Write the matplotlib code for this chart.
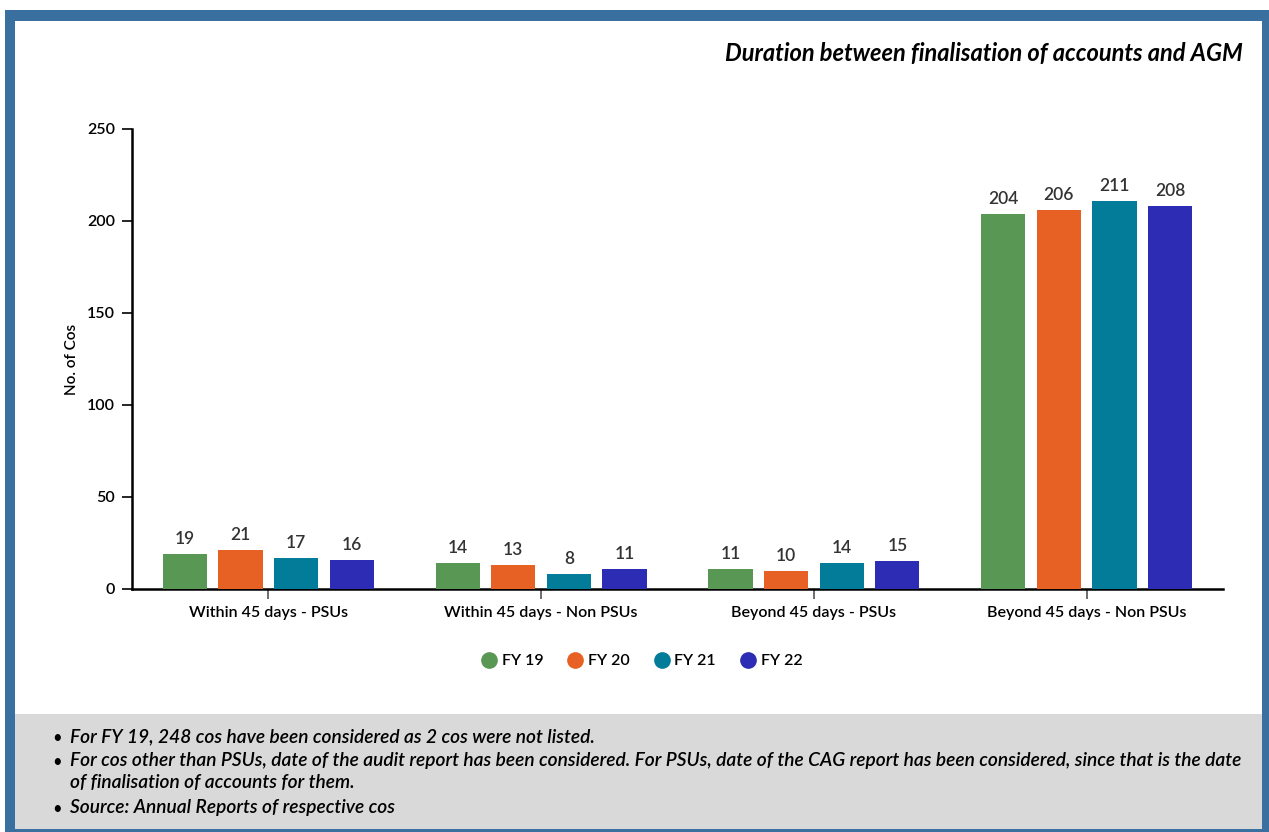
import numpy as np
import matplotlib.pyplot as plt
from matplotlib.patches import Rectangle
from matplotlib.lines import Line2D

plt.rcParams['font.family'] = ['Lato', 'DejaVu Sans']

categories = ['Within 45 days - PSUs', 'Within 45 days - Non PSUs',
              'Beyond 45 days - PSUs', 'Beyond 45 days - Non PSUs']
years = ['FY 19', 'FY 20', 'FY 21', 'FY 22']
fy19 = [19, 14, 11, 204]
fy20 = [21, 13, 10, 206]
fy21 = [17, 8, 14, 211]
fy22 = [16, 11, 15, 208]
colors = ['#589854', '#E86124', '#027C98', '#2C2CB4']

notes = [
    'For FY 19, 248 cos have been considered as 2 cos were not listed.',
    'For cos other than PSUs, date of the audit report has been considered. For PSUs, date of the CAG report has been considered, since that is the date\nof finalisation of accounts for them.',
    'Source: Annual Reports of respective cos',
]

W, H = 1269, 832
fig = plt.figure(figsize=(W / 100, H / 100), dpi=100)
fig.patch.set_facecolor('white')

def px(x0, y0, x1, y1, **kw):
    # rectangle given in pixel coords (origin top-left)
    return Rectangle((x0 / W, 1 - y1 / H), (x1 - x0) / W, (y1 - y0) / H,
                     transform=fig.transFigure, **kw)

blue = '#3A70A0'
fig.patches.append(px(5, 10, W, H, facecolor=blue, edgecolor='none', zorder=0))
fig.patches.append(px(15, 21, 1262, 829, facecolor='white', edgecolor='none', zorder=1))
fig.patches.append(px(15, 714, 1262, 829, facecolor='#D9D9D9', edgecolor='none', zorder=2))

ax = fig.add_axes([132 / W, 1 - 589 / H, (1223 - 132) / W, (589 - 129) / H])
ax.set_zorder(3)
ax.patch.set_alpha(0)

x = np.arange(len(categories))
width = 0.162
pitch = 0.204
series = [fy19, fy20, fy21, fy22]
for i, (vals, c) in enumerate(zip(series, colors)):
    pos = x + (i - 1.5) * pitch
    bars = ax.bar(pos, vals, width=width, color=c, label=years[i], zorder=3)
    for b, v in zip(bars, vals):
        ax.annotate(str(v), (b.get_x() + b.get_width() / 2, v), xytext=(0, 5),
                    textcoords='offset points', ha='center', va='bottom',
                    fontsize=12.5, fontweight='semibold', color='#333333')

ax.set_xlim(-0.5, 3.5)
ax.set_ylim(0, 250)
ax.set_yticks([0, 50, 100, 150, 200, 250])
ax.set_xticks(x)
ax.set_xticklabels(categories)
for s in ['top', 'right']:
    ax.spines[s].set_visible(False)
for s in ['left', 'bottom']:
    ax.spines[s].set_linewidth(1.8)
    ax.spines[s].set_color('black')
ax.tick_params(axis='y', length=7, width=1.2, labelsize=11.5, pad=5)
ax.tick_params(axis='x', length=7, width=1.2, labelsize=11.5, pad=5, color='#555555')
for lbl in ax.get_xticklabels() + ax.get_yticklabels():
    lbl.set_fontweight('semibold')
ax.set_ylabel('No. of Cos', fontsize=11, fontweight='semibold', labelpad=6)

handles = [Line2D([], [], marker='o', linestyle='', markersize=11,
                  markerfacecolor=c, markeredgecolor=c) for c in colors]
fig.legend(handles, years, loc='center', bbox_to_anchor=(640 / W, 1 - 661 / H),
           ncol=4, frameon=False, handletextpad=0.1, handlelength=1.4,
           columnspacing=1.3, prop={'weight': 'semibold', 'size': 11.5})

fig.text(1243 / W, 1 - 53 / H, 'Duration between finalisation of accounts and AGM',
         ha='right', va='center', fontsize=17, fontstyle='italic',
         fontweight='bold', zorder=4)

ys = [738, 762, 809]
for y, note in zip(ys, notes):
    fig.text(57 / W, 1 - y / H, '\u2022', ha='center', va='center',
             fontsize=12, zorder=4)
    fig.text(70 / W, 1 - (y - 10) / H, note, ha='left', va='top',
             fontsize=13.8, fontstyle='italic', fontweight='semibold',
             linespacing=1.38, zorder=4)

fig.savefig('out.png', dpi=100)
